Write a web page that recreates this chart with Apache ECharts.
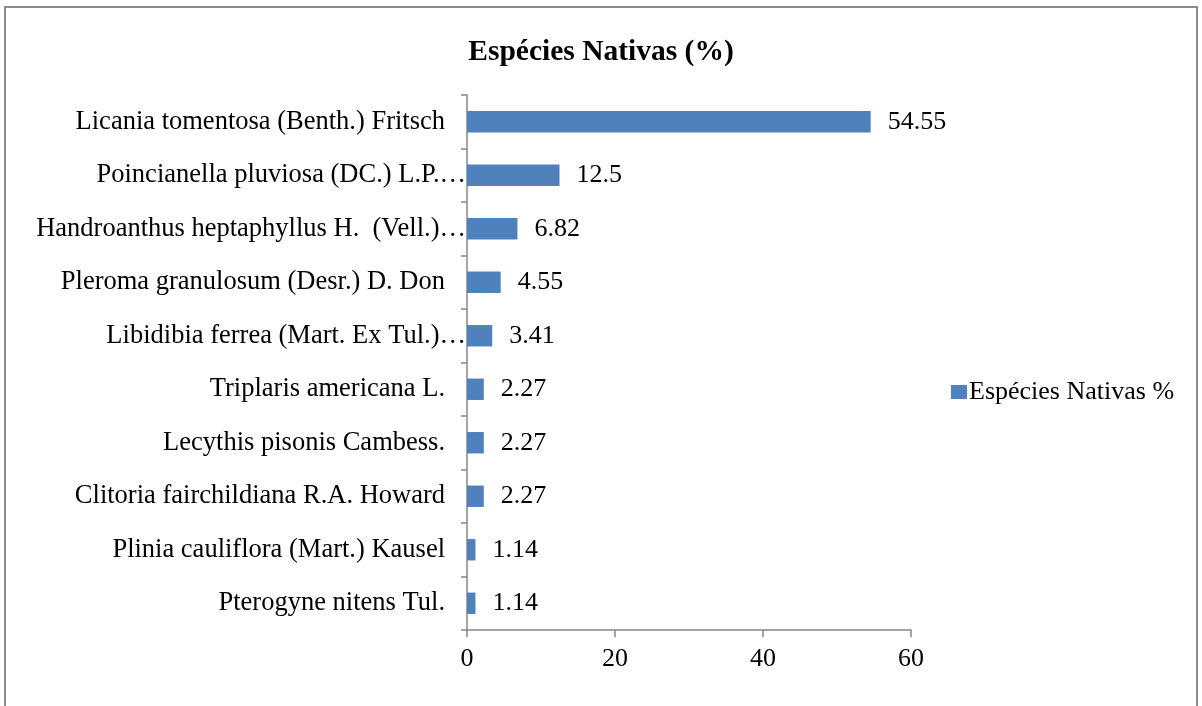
<!DOCTYPE html>
<html>
<head>
<meta charset="utf-8">
<script src="https://cdn.jsdelivr.net/npm/echarts@6/dist/echarts.min.js"></script>
<style>
html,body{margin:0;padding:0;background:#fff;}
#c{width:1202px;height:706px;}
</style>
</head>
<body>
<div id="c"></div>
<script>
const categories = [
  "Licania tomentosa (Benth.) Fritsch",
  "Poincianella pluviosa (DC.) L.P.…",
  "Handroanthus heptaphyllus H.  (Vell.)…",
  "Pleroma granulosum (Desr.) D. Don",
  "Libidibia ferrea (Mart. Ex Tul.)…",
  "Triplaris americana L.",
  "Lecythis pisonis Cambess.",
  "Clitoria fairchildiana R.A. Howard",
  "Plinia cauliflora (Mart.) Kausel",
  "Pterogyne nitens Tul."
];
const values = [54.55, 12.5, 6.82, 4.55, 3.41, 2.27, 2.27, 2.27, 1.14, 1.14];
const seriesName = "Espécies Nativas %";
const titleText = "Espécies Nativas (%)";

const font = "'Liberation Serif','Times New Roman',serif";
const axisColor = "#878787";
const fs = 26;
const chart = echarts.init(document.getElementById('c'), null, {renderer:'canvas'});
chart.setOption({
  animation:false,
  textStyle:{fontFamily:font},
  title:{text:titleText,left:'center',top:32,textStyle:{fontFamily:font,fontSize:29.5,fontWeight:'bold',color:'#000'}},
  graphic:[{type:'rect',shape:{x:5,y:7,width:1192,height:720},style:{fill:'none',stroke:'#8a8a8a',lineWidth:2},silent:true,z:-1}],
  legend:{left:946,top:374,itemWidth:16,itemHeight:14,itemGap:3,icon:'rect',
    data:[seriesName],
    textStyle:{fontFamily:font,fontSize:fs,color:'#000',padding:[0,0,0,-3]}},
  grid:{left:467,right:291,top:95,bottom:76,containLabel:false},
  xAxis:{type:'value',min:0,max:60,interval:20,
    axisLine:{show:true,lineStyle:{color:axisColor,width:1.5}},
    axisTick:{show:true,length:7,lineStyle:{color:axisColor,width:1.5}},
    splitLine:{show:false},
    axisLabel:{fontFamily:font,fontSize:fs,color:'#000',margin:16}},
  yAxis:{type:'category',data:categories,inverse:true,
    axisLine:{show:true,lineStyle:{color:axisColor,width:1.5}},
    axisTick:{show:true,length:6,lineStyle:{color:axisColor,width:1.5}},
    axisLabel:{color:'#000',margin:1,
      formatter:function(v){ return v.endsWith('…') ? '{t|'+v+'}' : '{n|'+v+'}'; },
      rich:{
        n:{fontFamily:font,fontSize:26.5,color:'#000',padding:[0,21,0,0]},
        t:{fontFamily:font,fontSize:26.5,color:'#000',padding:[0,0,0,0]}
      }}},
  series:[{name:seriesName,type:'bar',data:values,barCategoryGap:'60%',
    itemStyle:{color:'#4f81bd'},
    label:{show:true,position:'right',distance:17,fontFamily:font,fontSize:fs,color:'#000'}}]
});
</script>
</body>
</html>
